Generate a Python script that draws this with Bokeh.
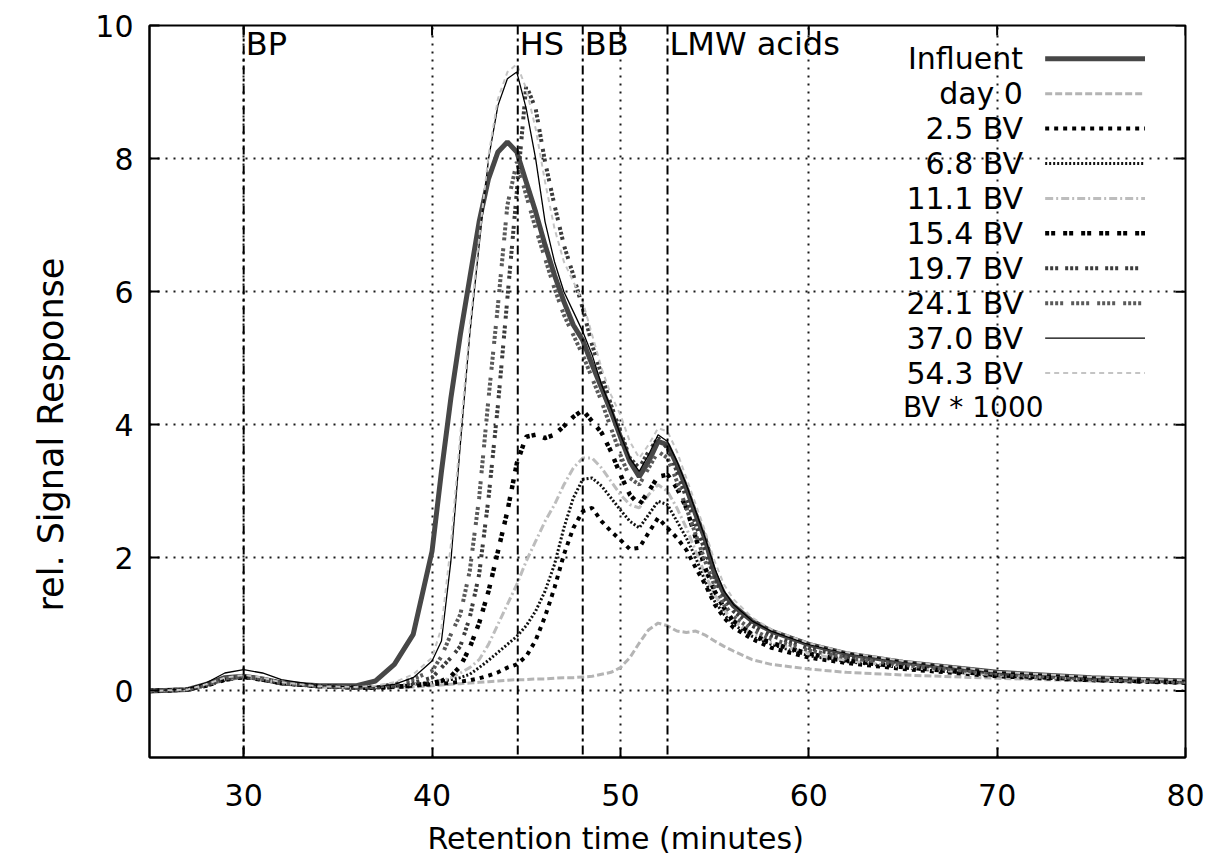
from bokeh.plotting import figure
from bokeh.models import FixedTicker, Span, Range1d, Title
from bokeh.core.properties import value
from bokeh.embed import file_html
from bokeh.resources import INLINE

# ---------------- data ----------------
x_time = [25, 27, 28, 29, 30, 31, 32, 34, 36, 37, 38, 39,
          40, 40.5, 41, 41.5, 42, 42.5, 43, 43.5, 44, 44.5, 45, 45.5, 46, 46.5,
          47, 47.5, 48, 48.5, 49, 49.5, 50, 50.5, 51, 51.5, 52, 52.5, 53, 53.5,
          54, 54.5, 55, 55.5, 56,
          57, 58, 60, 62, 65, 70, 75, 80]

influent = [0.0, 0.02, 0.1, 0.2, 0.22, 0.18, 0.12, 0.08, 0.08, 0.15, 0.4, 0.85,
            2.1, 3.3, 4.4, 5.35, 6.2, 7.05, 7.7, 8.1, 8.25, 8.1, 7.65, 7.2, 6.7, 6.25,
            5.85, 5.5, 5.27, 4.9, 4.55, 4.2, 3.82, 3.45, 3.22, 3.45, 3.75, 3.7, 3.4, 3.05,
            2.65, 2.28, 1.76, 1.46, 1.28,
            1.05, 0.9, 0.7, 0.56, 0.43, 0.28, 0.2, 0.15]

day0 = [0.0, 0.02, 0.08, 0.16, 0.2, 0.17, 0.12, 0.07, 0.05, 0.05, 0.05, 0.06,
        0.08, 0.09, 0.1, 0.11, 0.12, 0.13, 0.14, 0.15, 0.16, 0.17, 0.17, 0.18, 0.18, 0.19,
        0.2, 0.2, 0.21, 0.22, 0.25, 0.28, 0.35, 0.5, 0.72, 0.92, 1.02, 0.98, 0.9, 0.88,
        0.9, 0.84, 0.75, 0.67, 0.6,
        0.47, 0.4, 0.33, 0.28, 0.24, 0.19, 0.15, 0.12]

bv_2_5 = [0.0, 0.02, 0.08, 0.17, 0.21, 0.17, 0.12, 0.07, 0.05, 0.05, 0.06, 0.08,
          0.1, 0.11, 0.12, 0.14, 0.16, 0.19, 0.23, 0.28, 0.35, 0.4, 0.52, 0.76, 1.12, 1.55,
          2.05, 2.45, 2.7, 2.75, 2.55, 2.4, 2.27, 2.13, 2.15, 2.38, 2.6, 2.45, 2.3, 2.12,
          1.85, 1.6, 1.3, 1.1, 0.95,
          0.78, 0.65, 0.5, 0.42, 0.33, 0.22, 0.16, 0.12]

bv_6_8 = [0.0, 0.02, 0.08, 0.17, 0.21, 0.17, 0.12, 0.07, 0.05, 0.05, 0.07, 0.1,
          0.13, 0.15, 0.17, 0.2, 0.25, 0.35, 0.46, 0.58, 0.7, 0.82, 0.98, 1.2, 1.5, 1.9,
          2.45, 2.9, 3.18, 3.2, 3.08, 2.9, 2.72, 2.55, 2.45, 2.65, 2.85, 2.8, 2.55, 2.3,
          2.0, 1.65, 1.35, 1.15, 1.0,
          0.82, 0.7, 0.53, 0.44, 0.35, 0.23, 0.17, 0.13]

bv_11_1 = [0.0, 0.02, 0.08, 0.17, 0.21, 0.17, 0.12, 0.07, 0.05, 0.06, 0.08, 0.1,
           0.12, 0.15, 0.2, 0.27, 0.35, 0.47, 0.7, 1.0, 1.3, 1.6, 1.95, 2.25, 2.55, 2.8,
           3.1, 3.35, 3.5, 3.5, 3.35, 3.15, 2.95, 2.8, 2.75, 2.95, 3.1, 3.0, 2.75, 2.45,
           2.1, 1.75, 1.45, 1.22, 1.05,
           0.86, 0.73, 0.56, 0.46, 0.36, 0.24, 0.17, 0.13]

bv_15_4 = [0.0, 0.02, 0.08, 0.17, 0.21, 0.17, 0.12, 0.07, 0.05, 0.05, 0.06, 0.08,
           0.12, 0.15, 0.22, 0.37, 0.65, 1.02, 1.5, 2.1, 2.7, 3.42, 3.82, 3.85, 3.8, 3.85,
           3.98, 4.12, 4.22, 4.05, 3.88, 3.6, 3.25, 2.95, 2.8, 3.0, 3.22, 3.25, 3.05, 2.75,
           2.3, 1.85, 1.5, 1.25, 1.05,
           0.85, 0.72, 0.56, 0.46, 0.36, 0.24, 0.17, 0.13]

bv_19_7 = [0.0, 0.02, 0.09, 0.18, 0.22, 0.18, 0.12, 0.07, 0.05, 0.05, 0.07, 0.12,
           0.2, 0.35, 0.5, 0.67, 1.1, 1.75, 2.9, 4.3, 5.9, 7.5, 9.1, 8.75, 7.95, 7.3,
           6.7, 6.25, 5.75, 5.2, 4.75, 4.3, 3.9, 3.5, 3.35, 3.6, 3.8, 3.65, 3.3, 2.9,
           2.5, 2.1, 1.7, 1.4, 1.2,
           0.98, 0.83, 0.64, 0.52, 0.41, 0.27, 0.19, 0.14]

bv_24_1 = [0.0, 0.02, 0.09, 0.19, 0.22, 0.18, 0.12, 0.07, 0.05, 0.06, 0.1, 0.18,
           0.3, 0.52, 0.85, 1.15, 1.8, 2.9, 4.4, 5.8, 7.3, 7.95, 7.45, 6.95, 6.5, 6.05,
           5.65, 5.35, 5.05, 4.7, 4.35, 3.95, 3.55, 3.2, 3.1, 3.35, 3.6, 3.5, 3.15, 2.75,
           2.35, 1.95, 1.58, 1.3, 1.12,
           0.92, 0.78, 0.61, 0.5, 0.39, 0.26, 0.18, 0.14]

bv_37_0 = [0.0, 0.03, 0.12, 0.27, 0.32, 0.27, 0.17, 0.08, 0.06, 0.07, 0.1, 0.2,
           0.45, 0.75, 1.95, 3.7, 5.35, 6.7, 8.0, 8.8, 9.2, 9.3, 8.75, 8.0, 7.05, 6.45,
           6.0, 5.7, 5.4, 5.05, 4.6, 4.25, 3.85, 3.5, 3.3, 3.55, 3.85, 3.75, 3.45, 3.1,
           2.7, 2.3, 1.85, 1.5, 1.3,
           1.05, 0.9, 0.7, 0.57, 0.44, 0.28, 0.2, 0.15]

bv_54_3 = [0.0, 0.02, 0.1, 0.2, 0.24, 0.2, 0.13, 0.07, 0.06, 0.08, 0.13, 0.25,
           0.5, 0.95, 2.2, 3.85, 5.45, 6.8, 8.05, 8.9, 9.3, 9.42, 9.05, 8.45, 7.65, 6.95,
           6.45, 6.15, 5.85, 5.35, 4.85, 4.45, 4.15, 3.75, 3.5, 3.7, 3.95, 3.9, 3.6, 3.2,
           2.8, 2.4, 1.95, 1.6, 1.38,
           1.1, 0.93, 0.72, 0.58, 0.45, 0.29, 0.21, 0.16]

series_names = ["Influent", "day 0", "2.5 BV", "6.8 BV", "11.1 BV", "15.4 BV",
                "19.7 BV", "24.1 BV", "37.0 BV", "54.3 BV"]
series_values = [influent, day0, bv_2_5, bv_6_8, bv_11_1, bv_15_4,
                 bv_19_7, bv_24_1, bv_37_0, bv_54_3]

x_ticks = [30, 40, 50, 60, 70, 80]
y_ticks = [0, 2, 4, 6, 8, 10]
marker_pos = [30, 44.55, 48.0, 52.5]
marker_labels = ["BP", "HS", "BB", "LMW acids"]
legend_note = "BV * 1000"
x_title = "Retention time (minutes)"
y_title = "rel. Signal Response"

# ---------------- styles ----------------
colors = ["#474747", "#b4b4b4", "#000000", "#111111", "#bdbdbd", "#000000",
          "#3c3c3c", "#5a5a5a", "#000000", "#c4c4c4"]
widths = [5, 3, 4, 3, 3, 4.5, 4, 4, 1.3, 2]
dashes = ["solid", "7 3", "4 5", "2 2", "8 3 2 3", "4 2 4 8",
          "3 2 3 2 3 7", "3 2 3 2 3 2 3 8", "solid", "5 4"]

FONT = "DejaVu Sans"
FS = "30px"
FS_MARK = "32px"
FS_YTITLE = "35px"

X0, X1, Y0, Y1 = 25, 80, -1, 10

p = figure(width=1211, height=865, output_backend="svg", toolbar_location=None,
           x_range=Range1d(X0, X1), y_range=Range1d(Y0, Y1),
           min_border_left=149, min_border_right=26, min_border_top=25,
           min_border_bottom=107)
p.background_fill_color = "white"
p.border_fill_color = "white"
p.outline_line_color = "black"
p.outline_line_width = 2
p.outline_line_alpha = 1

# axes
for ax in (p.xaxis[0], p.yaxis[0]):
    ax.axis_line_width = 2
    ax.major_tick_in = 10
    ax.major_tick_out = 0
    ax.minor_tick_line_color = None
    ax.major_tick_line_width = 2
    ax.major_label_text_font = FONT
    ax.major_label_text_font_size = FS
    ax.major_label_text_color = "black"
p.xaxis.ticker = FixedTicker(ticks=x_ticks)
p.yaxis.ticker = FixedTicker(ticks=y_ticks)
p.xaxis.major_label_standoff = 26
p.yaxis.major_label_standoff = 16

# axis titles, offset from the frame centre as in the reference
p.add_layout(Title(text=x_title, align="left", offset=278, text_font=FONT,
                   text_font_size=FS, text_font_style="normal", text_color="black",
                   standoff=20), "below")
p.add_layout(Title(text=y_title, align="left", offset=146, text_font=FONT,
                   text_font_size=FS_YTITLE, text_font_style="normal", text_color="black",
                   standoff=44), "left")

# mirrored inner ticks on top and right border
tick_len_x = 10 / 18.84
tick_len_y = 10 / 66.7
p.segment(x0=x_ticks, y0=[Y1] * len(x_ticks), x1=x_ticks, y1=[Y1 - tick_len_y] * len(x_ticks),
          line_color="black", line_width=2)
p.segment(x0=[X1] * len(y_ticks), y0=y_ticks, x1=[X1 - tick_len_x] * len(y_ticks), y1=y_ticks,
          line_color="black", line_width=2)

# grid
p.xgrid.ticker = FixedTicker(ticks=x_ticks)
p.ygrid.ticker = FixedTicker(ticks=y_ticks)
for g in (p.xgrid[0], p.ygrid[0]):
    g.grid_line_color = "black"
    g.grid_line_dash = "2 6"
    g.grid_line_width = 2
    g.grid_line_alpha = 0.9

# marker lines
for m in marker_pos:
    p.add_layout(Span(location=m, dimension="height", line_color="black",
                      line_width=2, line_dash="9 4 3 4"))

p.text(x=marker_pos, y=[9.72] * len(marker_pos), text=marker_labels,
       x_offset=2, text_font=value(FONT), text_font_size=value(FS_MARK),
       text_baseline="middle", text_align="left", text_color="black")

# curves
for vals, c, w, d in zip(series_values, colors, widths, dashes):
    p.line(x_time, vals, line_color=c, line_width=w, line_dash=d)

# custom legend (label on the left, sample on the right, like gnuplot)
n = len(series_names)
row_top = 9.50
row_step = 35 / 66.7
text_right = 71.37
sample_x0, sample_x1 = 72.55, 77.85
rows_y = [row_top - i * row_step for i in range(n)]
p.text(x=[text_right] * n, y=rows_y, text=series_names, text_align="right",
       text_baseline="middle", text_font=value(FONT), text_font_size=value(FS),
       text_color="black")
for yy, c, w, d in zip(rows_y, colors, widths, dashes):
    p.line([sample_x0, sample_x1], [yy, yy], line_color=c, line_width=w, line_dash=d)
p.text(x=[65.0], y=[row_top - n * row_step], text=[legend_note], text_align="left",
       text_baseline="middle", text_font=value(FONT), text_font_size=value("28px"),
       text_color="black")

open("out.html", "w").write(file_html(p, INLINE))
